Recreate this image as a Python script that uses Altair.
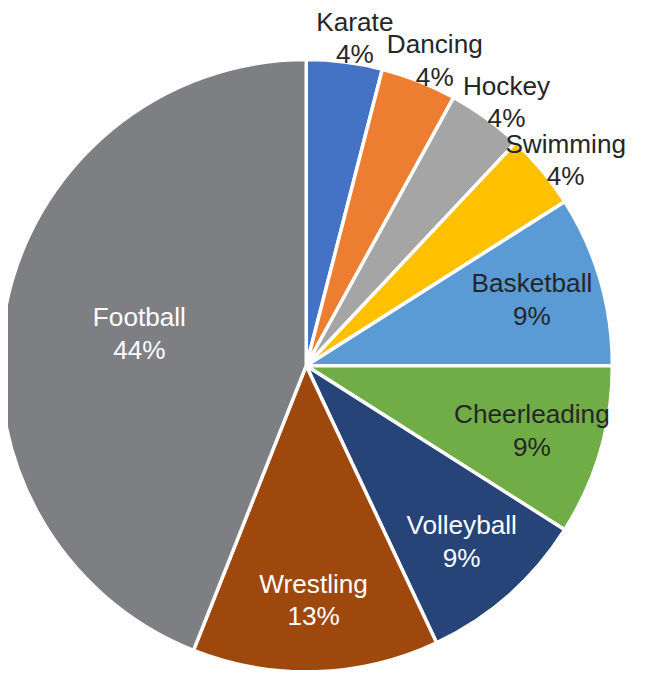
import altair as alt
import pandas as pd

sports = ["Karate", "Dancing", "Hockey", "Swimming", "Basketball",
          "Cheerleading", "Volleyball", "Wrestling", "Football"]
percents = [4, 4, 4, 4, 9, 9, 9, 13, 44]
colors = ["#4472C4", "#ED7D31", "#A5A5A5", "#FFC000", "#5B9BD5",
          "#70AD47", "#264478", "#9E480E", "#7E7F83"]
white_label_sports = ["Volleyball", "Wrestling", "Football"]

df = pd.DataFrame({
    "sport": sports,
    "pct": percents,
    "idx": list(range(len(sports))),
})

CX, CY, R = 302, 358, 310

pie = alt.Chart(df).mark_arc(stroke="white", strokeWidth=3.5, radius=R).encode(
    theta=alt.Theta("pct:Q", stack=True, scale=alt.Scale(domain=[0, 100])),
    order=alt.Order("idx:Q"),
    x=alt.value(CX),
    y=alt.value(CY),
    color=alt.Color("sport:N", scale=alt.Scale(domain=sports, range=colors), legend=None),
)

white_test = " || ".join(f"datum.sport == '{s}'" for s in white_label_sports)

labels = alt.Chart(df).transform_window(
    cum="sum(pct)", sort=[alt.SortField("idx")], frame=[None, 0],
).transform_calculate(
    mid="datum.cum - datum.pct / 2 + (datum.pct < 5 ? 0.35 : 0)",
    label="datum.sport + '\\n' + datum.pct + '%'",
    lr="datum.pct < 5 ? 335 : (datum.pct > 40 ? 172 : 238)",
).mark_text(
    font="Liberation Sans", fontSize=26.5, lineBreak="\n", lineHeight=33,
    align="center", baseline="middle", dy=-16,
).encode(
    theta=alt.Theta("mid:Q", stack=None, scale=alt.Scale(domain=[0, 100])),
    x=alt.value(CX),
    y=alt.value(CY),
    text="label:N",
    radius=alt.Radius("lr:Q", scale=None),
    color=alt.condition(white_test, alt.value("#FFFFFF"), alt.value("#262626")),
)

chart = alt.layer(pie, labels).resolve_scale(theta="independent").properties(
    width=640, height=670,
    autosize=alt.AutoSizeParams(type="none"),
    padding=0,
).configure_view(stroke=None)

chart.save("out.html", embed_options={"renderer": "svg", "actions": False})
